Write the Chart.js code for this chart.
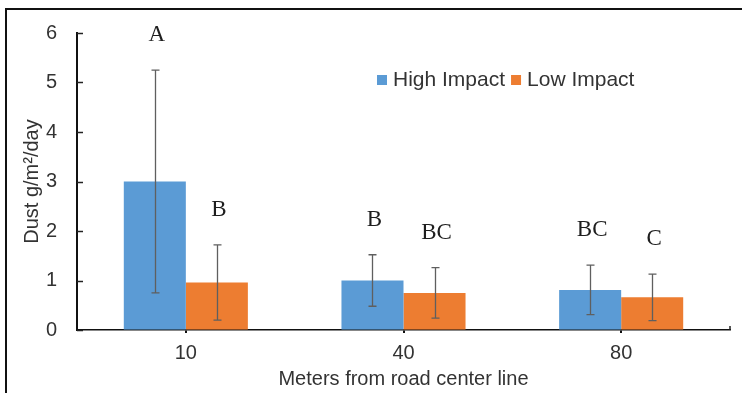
<!DOCTYPE html>
<html>
<head>
<meta charset="utf-8">
<script src="https://cdn.jsdelivr.net/npm/chart.js@4"></script>
<style>
  html, body { margin: 0; padding: 0; background: #fff; }
  #wrap { position: relative; width: 742px; height: 393px; }
</style>
</head>
<body>
<div id="wrap"><canvas id="c" width="742" height="393"></canvas></div>
<script>
// Distance from the road centre line (m)
const categories = ['10', '40', '80'];

// Mean dust deposition (g/m²/day) and its error (±)
const highImpact = [3.0, 1.0, 0.81];
const highImpactErr = [2.25, 0.52, 0.5];
const lowImpact = [0.96, 0.75, 0.66];
const lowImpactErr = [0.76, 0.51, 0.47];

// Significance groups above each bar
const highLetters = ['A', 'B', 'BC'];
const lowLetters = ['B', 'BC', 'C'];

// Y axis range
const yMin = 0;
const yMax = 6;
const yStep = 1;

const BLUE = '#5B9BD5';
const ORANGE = '#ED7D31';
const TEXT = '#333333';
const SANS = '"Liberation Sans", Arial, sans-serif';
const SERIF = '"Liberation Serif", "Times New Roman", serif';

const errors = [highImpactErr, lowImpactErr];
const letters = [highLetters, lowLetters];

// White page with the frame on the top and left edges
const framePlugin = {
  id: 'frame',
  beforeDraw(chart) {
    const ctx = chart.ctx;
    ctx.save();
    ctx.fillStyle = '#fff';
    ctx.fillRect(0, 0, chart.width, chart.height);
    ctx.restore();
  },
  afterDraw(chart) {
    const ctx = chart.ctx;
    ctx.save();
    ctx.strokeStyle = '#111';
    ctx.lineWidth = 2;
    ctx.beginPath();
    ctx.moveTo(6, chart.height);
    ctx.lineTo(6, 9);
    ctx.lineTo(chart.width, 9);
    ctx.stroke();
    ctx.restore();
  }
};

// Inside tick marks on the value axis, plus the closing tick at the end of the category axis
const innerTicksPlugin = {
  id: 'innerTicks',
  afterDraw(chart) {
    const y = chart.scales.y;
    const area = chart.chartArea;
    const ctx = chart.ctx;
    ctx.save();
    ctx.strokeStyle = '#222';
    ctx.lineWidth = 1.5;
    y.ticks.forEach(t => {
      const py = Math.round(y.getPixelForValue(t.value)) + 0.5;
      ctx.beginPath();
      ctx.moveTo(area.left, py);
      ctx.lineTo(area.left + 6, py);
      ctx.stroke();
    });
    ctx.beginPath();
    ctx.moveTo(area.right, area.bottom);
    ctx.lineTo(area.right, area.bottom - 4);
    ctx.stroke();
    ctx.restore();
  }
};

// Error bars and group letters
const errorBarPlugin = {
  id: 'errorBars',
  afterDatasetsDraw(chart) {
    const ctx = chart.ctx;
    const y = chart.scales.y;
    ctx.save();
    chart.data.datasets.forEach((ds, di) => {
      const meta = chart.getDatasetMeta(di);
      meta.data.forEach((bar, i) => {
        const v = ds.data[i];
        const e = errors[di][i];
        const yTop = y.getPixelForValue(v + e);
        const yBot = y.getPixelForValue(v - e);
        const x = Math.round(bar.x) + 0.5;
        ctx.strokeStyle = '#5f5f5f';
        ctx.lineWidth = 1.3;
        ctx.beginPath();
        ctx.moveTo(x, yTop);
        ctx.lineTo(x, yBot);
        ctx.moveTo(x - 4, yTop);
        ctx.lineTo(x + 4, yTop);
        ctx.moveTo(x - 4, yBot);
        ctx.lineTo(x + 4, yBot);
        ctx.stroke();

        ctx.fillStyle = '#1e1e1e';
        ctx.font = '23px ' + SERIF;
        ctx.textAlign = 'center';
        ctx.textBaseline = 'middle';
        ctx.fillText(letters[di][i], bar.x + 2, yTop - 35);
      });
    });
    ctx.restore();
  }
};

// Legend drawn inside the plot area
const innerLegendPlugin = {
  id: 'innerLegend',
  afterDraw(chart) {
    const ctx = chart.ctx;
    const area = chart.chartArea;
    let x = area.left + 300;
    const cy = 80;
    ctx.save();
    ctx.font = '21px ' + SANS;
    ctx.textBaseline = 'middle';
    ctx.textAlign = 'left';
    chart.data.datasets.forEach(ds => {
      ctx.fillStyle = ds.backgroundColor;
      ctx.fillRect(x, cy - 5, 10, 10);
      x += 16;
      ctx.fillStyle = TEXT;
      ctx.fillText(ds.label, x, cy);
      x += ctx.measureText(ds.label).width + 6;
    });
    ctx.restore();
  }
};

new Chart(document.getElementById('c'), {
  type: 'bar',
  data: {
    labels: categories,
    datasets: [
      { label: 'High Impact', data: highImpact, backgroundColor: BLUE },
      { label: 'Low Impact', data: lowImpact, backgroundColor: ORANGE }
    ]
  },
  options: {
    responsive: false,
    animation: false,
    devicePixelRatio: 1,
    layout: { padding: { top: 33, right: 12, left: 0, bottom: 0 } },
    plugins: {
      legend: { display: false },
      tooltip: { enabled: false }
    },
    datasets: {
      bar: { categoryPercentage: 0.57, barPercentage: 1.0 }
    },
    scales: {
      x: {
        grid: {
          display: true,
          drawOnChartArea: false,
          offset: false,
          tickLength: 3,
          color: '#111',
          lineWidth: 2
        },
        border: { display: true, color: '#111', width: 1.5 },
        ticks: {
          color: TEXT,
          font: { family: SANS, size: 20 },
          padding: 8
        },
        title: {
          display: true,
          text: 'Meters from road center line',
          color: TEXT,
          font: { family: SANS, size: 20 },
          padding: { top: 0, bottom: 2 }
        },
        afterFit(scale) { scale.height = 63; }
      },
      y: {
        min: yMin,
        max: yMax,
        ticks: {
          stepSize: yStep,
          color: TEXT,
          font: { family: SANS, size: 20 },
          padding: 20
        },
        grid: {
          display: true,
          drawOnChartArea: false,
          drawTicks: false,
          tickLength: 0
        },
        border: { display: true, color: '#111', width: 2 },
        title: {
          display: true,
          text: 'Dust g/m²/day',
          color: TEXT,
          font: { family: SANS, size: 20 },
          padding: { top: 20, bottom: 0 }
        },
        afterFit(scale) { scale.width = 77; }
      }
    }
  },
  plugins: [framePlugin, errorBarPlugin, innerTicksPlugin, innerLegendPlugin]
});
</script>
</body>
</html>
